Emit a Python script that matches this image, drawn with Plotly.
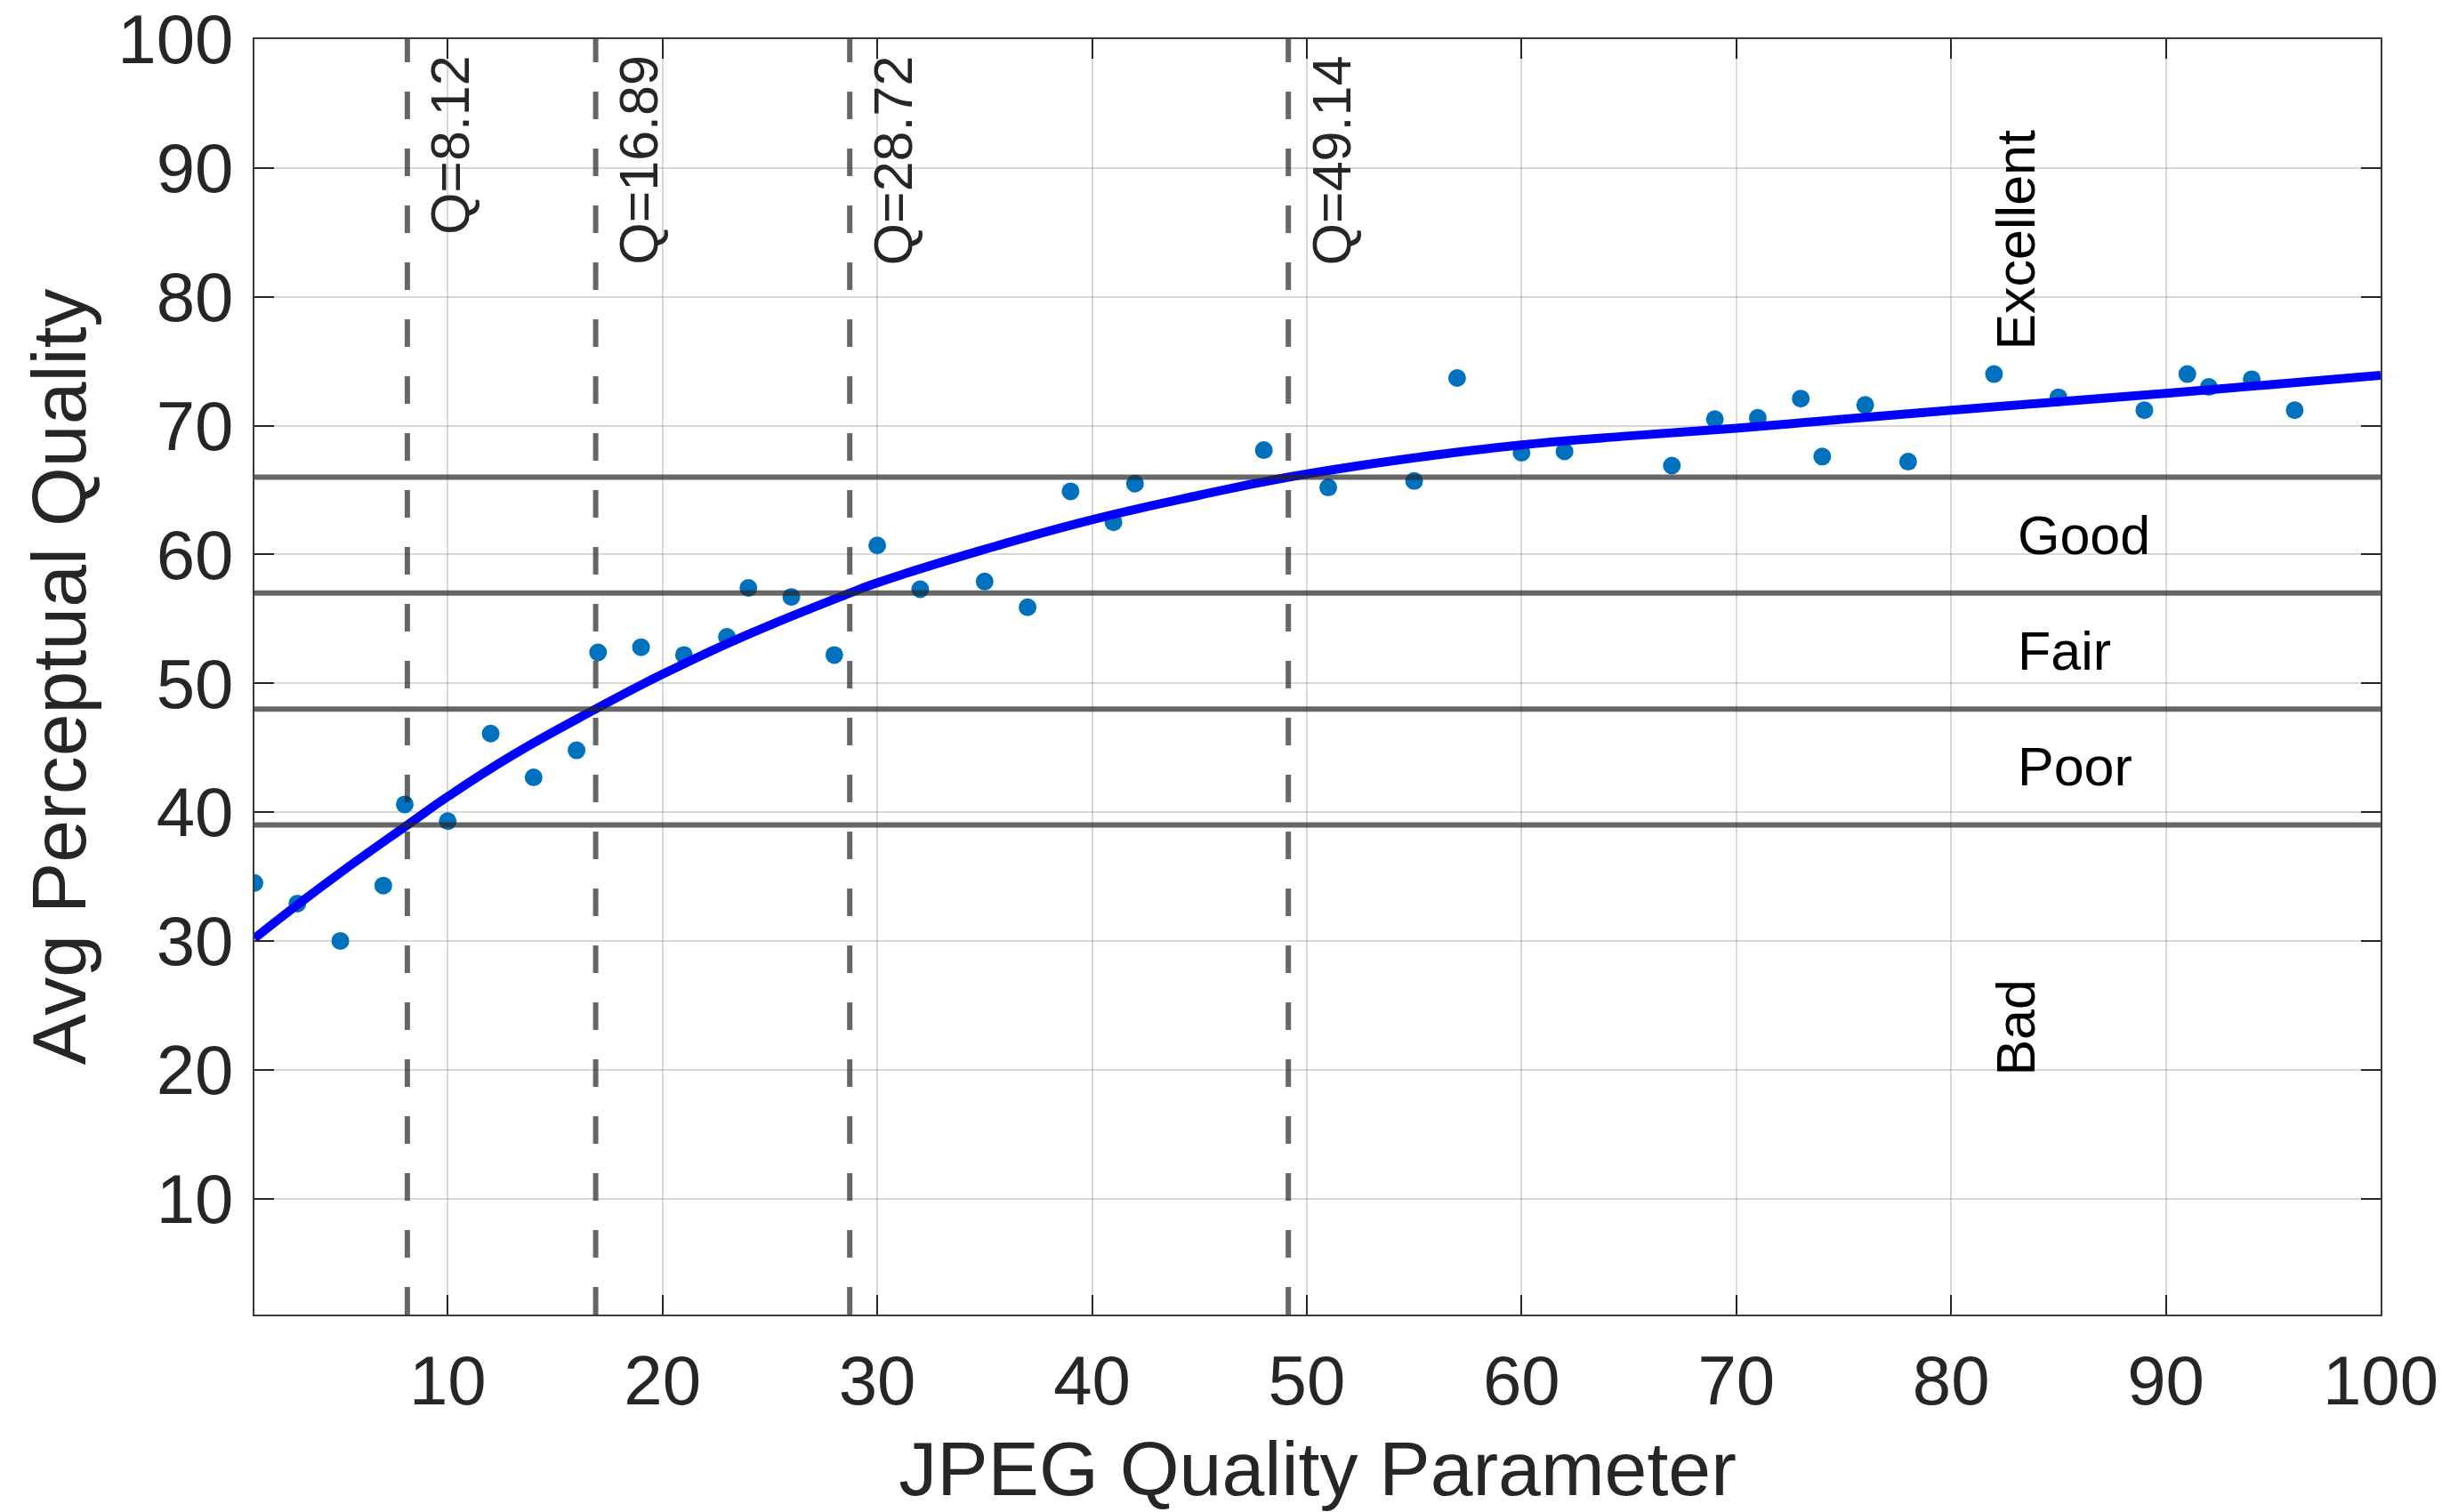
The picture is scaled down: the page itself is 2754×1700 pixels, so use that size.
import plotly.graph_objects as go

# Measured average perceptual quality per JPEG quality parameter
jpeg_q = [1, 3, 5, 7, 8, 10, 12, 14, 16, 17, 19, 21, 23, 24, 26, 28, 30, 32,
          35, 37, 39, 41, 42, 48, 51, 55, 57, 60, 62, 67, 69, 71, 73, 74, 76,
          78, 82, 85, 89, 91, 92, 94, 96]
avg_quality = [34.5, 32.9, 30.0, 34.3, 40.6, 39.3, 46.1, 42.7, 44.8, 52.4,
               52.8, 52.2, 53.6, 57.4, 56.7, 52.2, 60.7, 57.3, 57.9, 55.9,
               64.9, 62.5, 65.5, 68.1, 65.2, 65.7, 73.7, 67.9, 68.0, 66.9,
               70.5, 70.6, 72.1, 67.6, 71.6, 67.2, 74.0, 72.2, 71.2, 74.0,
               73.0, 73.6, 71.2]

# Fitted quality curve
fit_q = [1, 3, 5, 8.12, 10, 13, 16.89, 20, 24, 28.72, 30, 35, 40, 45, 49.14,
         55, 60, 65, 70, 75, 80, 85, 90, 95, 100]
fit_quality = [30.2, 32.8, 35.3, 39.0, 41.2, 44.4, 48.0, 50.7, 53.8, 57.0,
               57.8, 60.4, 62.7, 64.6, 66.0, 67.5, 68.5, 69.2, 69.8, 70.5,
               71.2, 71.85, 72.5, 73.2, 73.9]

# Category boundaries on the quality scale and the matching Q crossings
boundaries = [39, 48, 57, 66]
q_crossings = [8.12, 16.89, 28.72, 49.14]

# Category labels: (text, x, y, rotated)
category_labels = [
    ("Excellent", 83.0, 75.7, True),
    ("Good", 83.0, 61.5, False),
    ("Fair", 83.0, 52.5, False),
    ("Poor", 83.0, 43.5, False),
    ("Bad", 83.0, 19.4, True),
]

x_ticks = [10, 20, 30, 40, 50, 60, 70, 80, 90, 100]
y_ticks = [10, 20, 30, 40, 50, 60, 70, 80, 90, 100]

FONT = "Liberation Sans, Arial, Helvetica, sans-serif"
AX_COLOR = "#262626"
REF_LINE = "rgba(38,38,38,0.7)"

fig = go.Figure()

fig.add_trace(go.Scatter(
    x=jpeg_q, y=avg_quality, mode="markers",
    marker=dict(size=20, color="#0072BD", line=dict(width=0)),
    showlegend=False, hoverinfo="x+y",
))

fig.add_trace(go.Scatter(
    x=fit_q, y=fit_quality, mode="lines",
    line=dict(color="#0000FF", width=10, shape="spline", smoothing=1.3),
    showlegend=False, hoverinfo="x+y",
))

for b in boundaries:
    fig.add_shape(type="line", xref="x", yref="y", x0=1, x1=100, y0=b, y1=b,
                  line=dict(color=REF_LINE, width=6), layer="above")

for q in q_crossings:
    fig.add_shape(type="line", xref="x", yref="y", x0=q, x1=q, y0=1, y1=100,
                  line=dict(color=REF_LINE, width=6, dash="31px,33px"),
                  layer="above")
    fig.add_annotation(x=q + 2, y=98.9, xref="x", yref="y",
                       text=f"Q={q:.2f}", textangle=-90, showarrow=False,
                       xanchor="center", yanchor="top",
                       font=dict(family=FONT, size=61, color=AX_COLOR))

for text, lx, ly, rotated in category_labels:
    if rotated:
        fig.add_annotation(x=lx, y=ly, xref="x", yref="y", text=text,
                           textangle=-90, showarrow=False,
                           xanchor="center", yanchor="bottom",
                           font=dict(family=FONT, size=61, color="#000000"))
    else:
        fig.add_annotation(x=lx, y=ly, xref="x", yref="y", text=text,
                           showarrow=False, xanchor="left", yanchor="middle",
                           font=dict(family=FONT, size=61, color="#000000"))

axis_common = dict(
    showline=True, linecolor="#3a3a3a", linewidth=2, mirror="ticks",
    ticks="inside", ticklen=22, tickwidth=2, tickcolor=AX_COLOR,
    showgrid=True, gridcolor="rgba(38,38,38,0.18)", gridwidth=1.5,
    zeroline=False, automargin=False,
    tickfont=dict(family=FONT, size=78, color=AX_COLOR),
)

fig.update_xaxes(
    range=[1, 100], tickvals=x_ticks, ticktext=[str(v) for v in x_ticks],
    ticklabelstandoff=5,
    title=dict(text="JPEG Quality Parameter", standoff=26,
               font=dict(family=FONT, size=86, color=AX_COLOR)),
    **axis_common,
)
fig.update_yaxes(
    range=[1, 100], tickvals=y_ticks, ticktext=[str(v) for v in y_ticks],
    ticklabelstandoff=6,
    title=dict(text="Avg Perceptual Quality", standoff=7,
               font=dict(family=FONT, size=86, color=AX_COLOR)),
    **axis_common,
)

fig.update_layout(
    width=2754, height=1700,
    margin=dict(l=286, r=78, t=44, b=222),
    paper_bgcolor="white", plot_bgcolor="white",
    font=dict(family=FONT, color=AX_COLOR),
    showlegend=False,
)

fig.write_html("out.html")
